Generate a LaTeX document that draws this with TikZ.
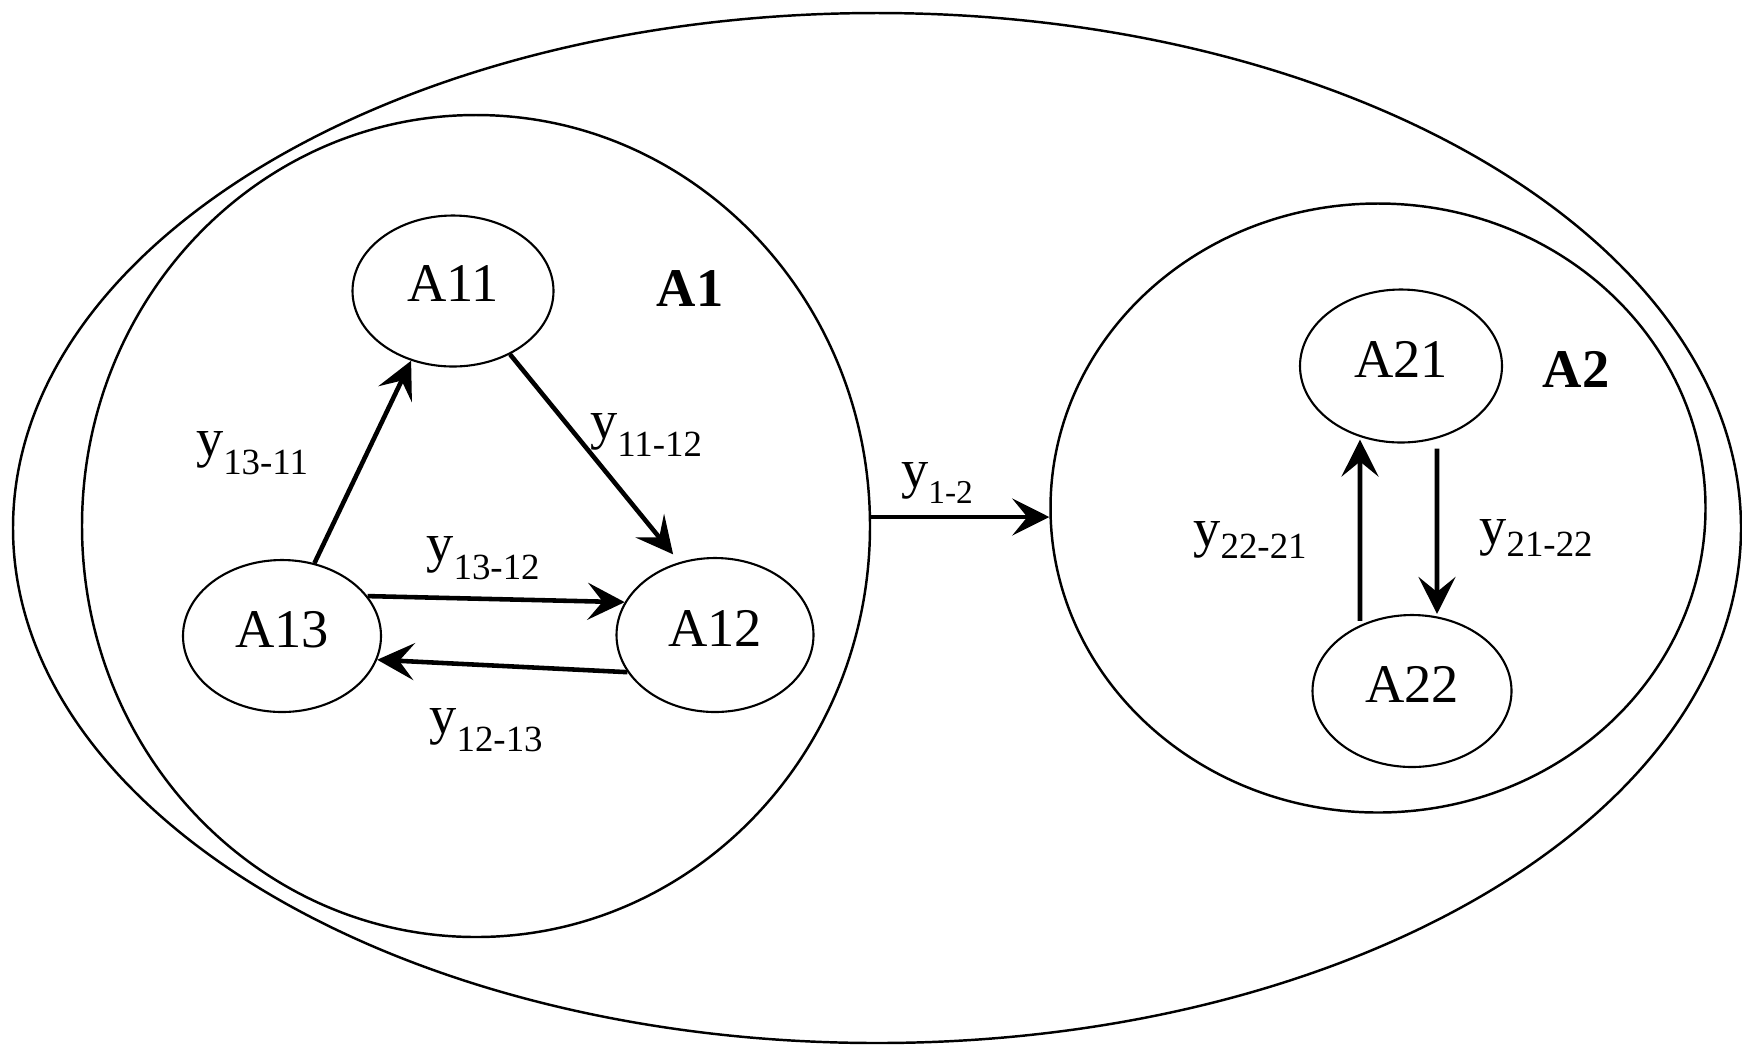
\documentclass[tikz,border=0pt]{standalone}
\usepackage{fontspec}
\setmainfont{Liberation Serif}
\usetikzlibrary{arrows.meta,shapes.geometric,calc}
\newcommand{\ylab}[3]{y\raisebox{-#2}{\fontsize{#3}{#3}\selectfont #1}}
\begin{document}
\begin{tikzpicture}[x=0.1mm,y=-0.1mm,
  big/.style={draw, ellipse, line width=0.7pt, inner sep=0pt},
  small/.style={draw, ellipse, line width=0.6pt, inner sep=0pt,
    font=\fontsize{15.5}{18}\selectfont, text depth=1.4mm},
  arr/.style={-{Stealth[length=3.7mm,width=3.7mm,inset=1.5mm]}, line width=1.3pt},
  lab/.style={inner sep=0pt, font=\fontsize{15.5}{18}\selectfont},
  grp/.style={inner sep=0pt, font=\fontsize{15.5}{18}\selectfont\bfseries}]
\useasboundingbox (0,0) rectangle (1742,1046);
% containers
\node[big, minimum width=172.8mm, minimum height=103mm] (Outer) at (877,528) {};
\node[big, minimum width=78.8mm, minimum height=82.2mm] (A1) at (476,526) {};
\node[big, minimum width=65.5mm, minimum height=60.9mm] (A2) at (1378,508) {};
% group labels
\node[grp] (A1lab) at (690,289) {A1};
\node[grp] (A2lab) at (1576,369) {A2};
% inner nodes
\node[small, minimum width=20.1mm, minimum height=15.1mm] (A11) at (453,291) {A11};
\node[small, minimum width=19.7mm, minimum height=15.4mm] (A12) at (715,635) {A12};
\node[small, minimum width=19.8mm, minimum height=15.2mm] (A13) at (282,636) {A13};
\node[small, minimum width=20.2mm, minimum height=15.3mm] (A21) at (1401,366) {A21};
\node[small, minimum width=19.9mm, minimum height=15.2mm] (A22) at (1412,691) {A22};
% connectors
\draw[arr] (A13.66) -- (A11.239);
\draw[arr, shorten >=1mm] (A11.-48) -- (A12.116);
\draw[arr] (A13.25) -- (A12.160);
\draw[arr] (A12.203) -- (A13.-14);
\draw[arr] ([yshift=0.9mm]A1.east) -- ([yshift=0.9mm]A1.east -| A2.west);
\draw[arr] ([xshift=-5.2mm,yshift=-0.7mm]A22.north) -- ([xshift=-4.1mm,yshift=0.4mm]A21.south);
\draw[arr] ([xshift=3.6mm,yshift=-0.5mm]A21.south) -- ([xshift=2.5mm]A22.north);
% connector labels
\node[lab] (l1311) at (252,453) {\ylab{13-11}{5pt}{10.5}};
\node[lab] (l1112) at (646,435) {\ylab{11-12}{5pt}{10.5}};
\node[lab] (l1312) at (483,558) {\ylab{13-12}{5pt}{10.5}};
\node[lab] (l1213) at (486,730) {\ylab{12-13}{5pt}{10.5}};
\node[lab] (l12) at (937,483) {\ylab{1-2}{4.5pt}{9.5}};
\node[lab] (l2221) at (1250,540) {\ylab{22-21}{3.5pt}{10.5}};
\node[lab] (l2122) at (1536,538) {\ylab{21-22}{3.5pt}{10.5}};
\end{tikzpicture}
\end{document}
